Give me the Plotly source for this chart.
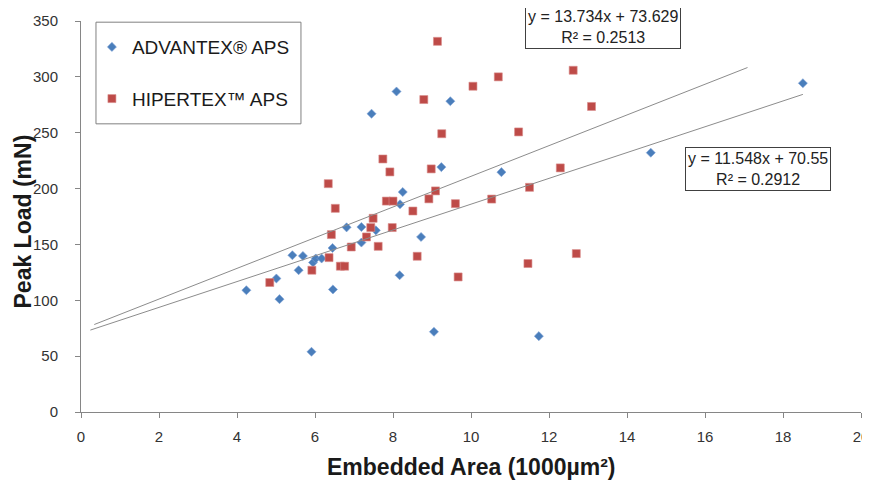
import plotly.graph_objects as go

# ---- data ----
adv_x = [4.24, 5.01, 5.09, 5.42, 5.58, 5.69, 5.91, 5.95, 6.02, 6.17,
         6.45, 6.46, 6.81, 7.19, 7.19, 7.56, 7.45, 8.09, 8.18, 8.25,
         8.17, 8.72, 9.05, 9.24, 9.47, 10.78, 11.74, 14.61, 18.51]
adv_y = [109, 119.5, 101, 140.3, 126.9, 139.7, 53.9, 133.8, 137.4, 137.4,
         146.8, 109.7, 165.3, 165.6, 151.7, 162.6, 267, 286.9, 185.9, 196.9,
         122.4, 156.7, 71.8, 219.2, 278.2, 214.7, 67.9, 232.1, 294.3]

hip_x = [4.84, 5.92, 6.34, 6.52, 6.42, 6.36, 6.65, 6.76, 6.93, 7.32,
         7.43, 7.49, 7.62, 7.92, 7.74, 7.83, 8.00, 8.51, 7.98, 8.62,
         8.79, 10.70, 10.05, 12.62, 9.14, 9.25, 11.22, 8.98, 12.29, 9.09,
         8.92, 11.50, 10.53, 9.60, 9.67, 11.46, 12.70, 13.09]
hip_y = [115.9, 126.9, 204.4, 182.3, 158.8, 138.2, 130.5, 130.5, 147.7, 156.7,
         165.1, 173.4, 148.3, 214.9, 226.5, 188.8, 188.8, 179.9, 165.1, 139.4,
         279.7, 300.0, 291.6, 305.9, 331.8, 249.1, 250.7, 217.6, 218.5, 197.9,
         190.8, 201.1, 190.6, 186.5, 120.9, 132.9, 141.8, 273.5]

adv_fit = (11.548, 70.55, 0.2912)
hip_fit = (13.734, 73.629, 0.2513)
adv_trend_x = [0.24, 18.51]
hip_trend_x = [0.34, 17.09]

x_ticks = list(range(0, 21, 2))
y_ticks = list(range(0, 351, 50))

series_names = ["ADVANTEX® APS", "HIPERTEX™ APS"]
x_title = "Embedded Area (1000µm²)"
y_title = "Peak Load (mN)"

BLUE = "#4A7EBB"
RED = "#BE4B48"
FONT = "Liberation Sans"

fig = go.Figure()

fig.add_trace(go.Scatter(
    x=adv_x, y=adv_y, mode="markers", name=series_names[0],
    legendgroup="a",
    marker=dict(symbol="diamond", size=7, color=BLUE,
                line=dict(width=0.6, color="#7FA3D6")),
))
fig.add_trace(go.Scatter(
    x=hip_x, y=hip_y, mode="markers", name=series_names[1],
    legendgroup="b",
    marker=dict(symbol="square", size=8, color=RED,
                line=dict(width=0.6, color="#D98C8A")),
))

for tx, (m, b, r2) in ((adv_trend_x, adv_fit), (hip_trend_x, hip_fit)):
    fig.add_trace(go.Scatter(
        x=tx, y=[m * v + b for v in tx], mode="lines",
        line=dict(color="#8C8C8C", width=1), showlegend=False,
        hoverinfo="skip",
    ))

def eq_text(m, b, r2):
    return f"y = {m}x + {b}<br>R² = {r2}"

fig.add_annotation(
    x=0.669, y=0.985, xref="paper", yref="paper",
    text=eq_text(*hip_fit), showarrow=False,
    font=dict(family=FONT, size=16, color="#222"),
    bordercolor="#404040", borderwidth=1, borderpad=2, bgcolor="white",
    xanchor="center", yanchor="middle",
)
fig.add_annotation(
    x=0.868, y=0.622, xref="paper", yref="paper",
    text=eq_text(*adv_fit), showarrow=False,
    font=dict(family=FONT, size=16, color="#222"),
    bordercolor="#404040", borderwidth=1, borderpad=2, bgcolor="white",
    xanchor="center", yanchor="middle",
)

# axis titles
fig.add_annotation(
    x=0, y=0.5, xref="paper", yref="paper", text=f"<b>{y_title}</b>",
    showarrow=False, textangle=-90, xanchor="center", yanchor="middle",
    xshift=-59, yshift=-5, font=dict(family=FONT, size=23, color="#1a1a1a"),
)
fig.add_annotation(
    x=0.5, y=0, xref="paper", yref="paper", text=f"<b>{x_title}</b>",
    showarrow=False, xanchor="center", yanchor="middle",
    yshift=-55, font=dict(family=FONT, size=23, color="#1a1a1a"),
)

# legend frame
fig.add_shape(
    type="rect", xref="paper", yref="paper",
    x0=0.0192, x1=0.282, y0=0.737, y1=0.997,
    line=dict(color="#808080", width=1), fillcolor="white", layer="below",
)

axis_common = dict(
    showgrid=False, zeroline=False, showline=True, linecolor="#868686",
    linewidth=1, ticks="outside", ticklen=5, tickcolor="#868686",
    tickfont=dict(family=FONT, size=15, color="#333"), automargin=False,
)

fig.update_xaxes(range=[0, 20], tickvals=x_ticks, ticklabelstandoff=6,
                 **axis_common)
fig.update_yaxes(range=[0, 350], tickvals=y_ticks, ticklabelstandoff=14,
                 **axis_common)

# the page body keeps an 8px default margin, so the figure is sized to fit
fig.update_layout(
    width=862, height=476,
    margin=dict(l=73, r=9, t=13, b=72, autoexpand=False),
    paper_bgcolor="white", plot_bgcolor="white",
    showlegend=True,
    legend=dict(
        x=0.014, y=0.982, xanchor="left", yanchor="top",
        borderwidth=0, bgcolor="rgba(0,0,0,0)",
        font=dict(family=FONT, size=19, color="#1a1a1a"),
        traceorder="grouped", tracegroupgap=24,
    ),
)

fig.write_html("out.html")
